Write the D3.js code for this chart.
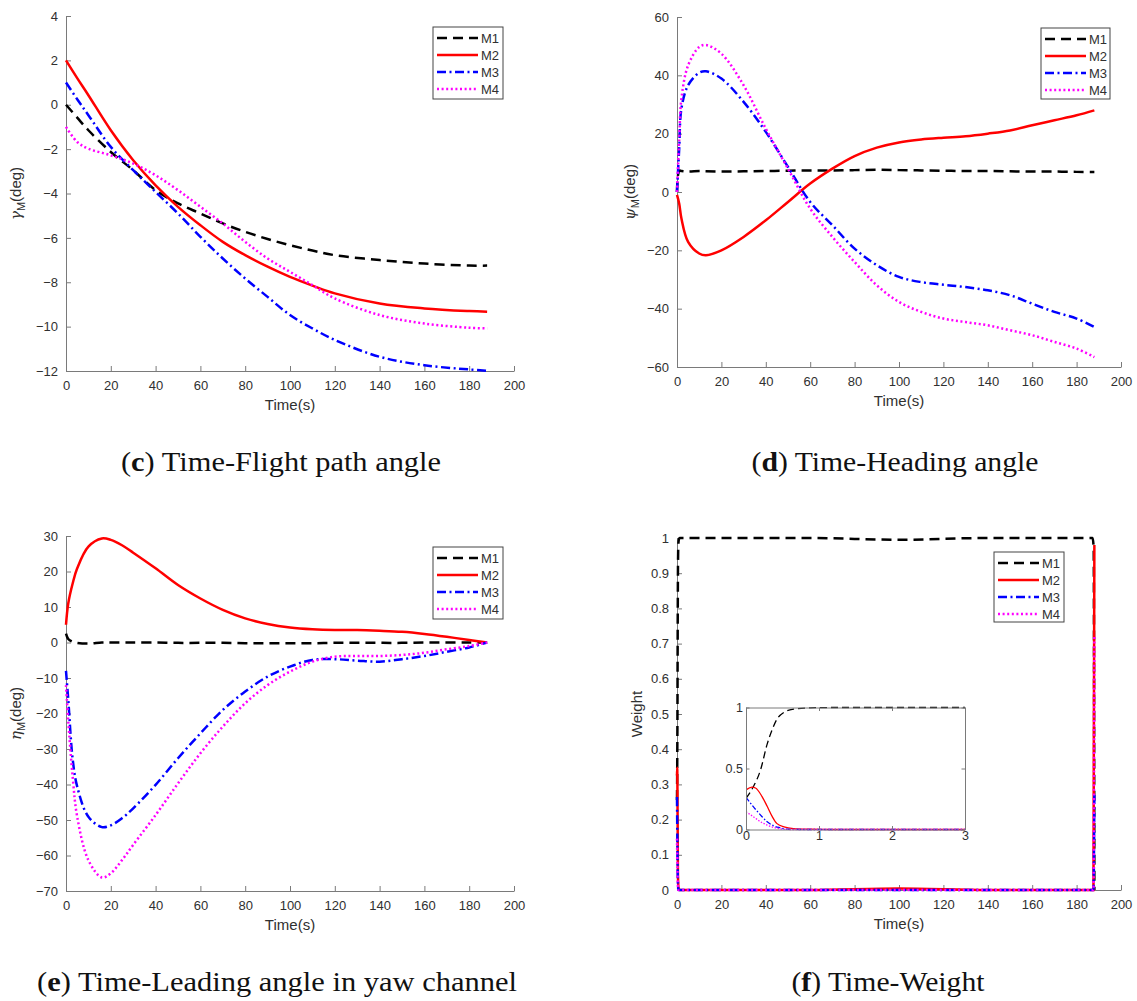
<!DOCTYPE html>
<html>
<head>
<meta charset="utf-8">
<script src="https://cdn.jsdelivr.net/npm/d3@7"></script>
<style>
  body { margin: 0; background: #fff; }
  svg { display: block; }
  svg text { font-family: "Liberation Sans", Arimo, Arial, Helvetica, sans-serif; }
  svg text.cap { font-family: "Liberation Serif", Tinos, "Times New Roman", serif; }
  svg tspan.greek { font-family: "DejaVu Serif", serif; font-style: italic; }
</style>
</head>
<body>
<svg id="fig" width="1137" height="1001"></svg>
<script>
// ---- series meta ----
const seriesNames = ["M1", "M2", "M3", "M4"];

// ---- (c) flight path angle ----
const tGamma   = [0, 5, 10, 20, 30, 40, 50, 60, 70, 80, 90, 100, 110, 120, 140, 160, 180, 188];
const gammaM1  = [0, -0.58, -1.15, -2.13, -2.95, -3.85, -4.45, -4.9, -5.35, -5.73, -6.05, -6.33, -6.57, -6.78, -7.0, -7.16, -7.25, -7.25];
const gammaM2  = [2, 1.2, 0.43, -1.15, -2.5, -3.63, -4.6, -5.43, -6.18, -6.78, -7.3, -7.76, -8.15, -8.5, -8.96, -9.18, -9.3, -9.33];
const gammaM3  = [1, 0.25, -0.47, -1.9, -2.95, -3.93, -4.9, -5.95, -6.93, -7.83, -8.66, -9.48, -10.08, -10.6, -11.36, -11.74, -11.93, -11.99];
const gammaM4  = [-1, -1.68, -1.98, -2.28, -2.65, -3.18, -3.85, -4.6, -5.35, -6.18, -6.93, -7.53, -8.13, -8.73, -9.48, -9.86, -10.05, -10.08];
const gammaTicks = [4, 2, 0, -2, -4, -6, -8, -10, -12];

// ---- (d) heading angle ----
const tPsi   = [0, 1, 2, 5, 10, 13, 20, 30, 40, 50, 60, 70, 80, 90, 100, 110, 120, 130, 140, 150, 160, 170, 180, 188];
const psiM1  = [0, 7.3, 7.2, 7.0, 7.2, 7.1, 7.0, 7.1, 7.2, 7.3, 7.4, 7.4, 7.5, 7.6, 7.5, 7.4, 7.3, 7.2, 7.2, 7.1, 7.0, 7.0, 6.9, 6.9];
const psiM2  = [-1, -4, -9.1, -17.1, -21.1, -21.7, -20, -15.4, -9.7, -3.4, 2.9, 8, 12.3, 15.2, 17.0, 18.0, 18.6, 19.1, 20, 21.1, 22.9, 24.6, 26.3, 28];
const psiM3  = [0, 15, 28.6, 36.6, 40.9, 41.4, 38.9, 30.9, 20.6, 8.6, -3.4, -11.4, -19.4, -25.1, -29.1, -30.9, -31.8, -32.6, -33.7, -35.4, -38.3, -41.1, -43.4, -46.3];
const psiM4  = [0, 18, 32, 43.4, 49.7, 50.4, 47.4, 36.6, 21.7, 8, -5.7, -15.4, -24, -32, -37.7, -41.1, -43.4, -44.6, -45.7, -47.4, -49.1, -51.4, -53.7, -56.6];
const psiTicks = [60, 40, 20, 0, -20, -40, -60];

// ---- (e) leading angle in yaw channel ----
const tEta   = [0, 1, 3, 5, 10, 16, 20, 25, 30, 40, 50, 60, 70, 80, 90, 100, 110, 120, 130, 140, 150, 160, 170, 180, 188];
const etaM1  = [2.5, 1, 0.2, -0.1, -0.3, 0, 0, 0, 0, 0, -0.1, -0.1, -0.1, -0.2, -0.2, -0.2, -0.2, -0.1, -0.1, -0.1, -0.1, 0, 0, 0, 0];
const etaM2  = [5, 11, 16.7, 20.9, 27, 29.3, 28.9, 27.4, 25.3, 20.9, 16.2, 12.4, 9.2, 6.8, 5.2, 4.2, 3.7, 3.5, 3.5, 3.3, 3, 2.4, 1.6, 0.7, 0];
const etaM3  = [-8, -16, -33, -40.6, -49.1, -52, -51.5, -49.5, -46.7, -40.1, -32.6, -25.6, -19, -13.8, -9.6, -6.8, -4.9, -4.7, -5.1, -5.4, -4.7, -3.8, -2.6, -1.4, 0];
const etaM4  = [-12, -22, -38, -49.1, -61.3, -66.2, -65, -61.3, -57, -48.6, -39.7, -31.2, -23.7, -17.1, -12, -8.2, -5.4, -4, -3.8, -3.8, -3.5, -2.9, -1.9, -1, 0];
const etaTicks = [30, 20, 10, 0, -10, -20, -30, -40, -50, -60, -70];

// ---- (f) weights ----
const wT1 = [0, 0.1, 0.2, 0.29, 0.36, 0.42, 0.52, 0.65, 0.88, 1.2, 60, 100, 140, 187.2, 187.7, 188];
const wM1 = [0.256, 0.35, 0.49, 0.70, 0.82, 0.9, 0.96, 0.986, 0.997, 1, 1, 0.995, 1, 1, 0.97, 0];
const wT2 = [0, 0.08, 0.13, 0.22, 0.29, 0.36, 0.42, 0.52, 0.65, 0.88, 1.2, 60, 100, 140, 187.6, 188];
const wM2 = [0.325, 0.347, 0.34, 0.27, 0.19, 0.105, 0.05, 0.022, 0.008, 0.003, 0, 0, 0.004, 0, 0, 0.98];
const wT3 = [0, 0.1, 0.2, 0.29, 0.38, 0.47, 0.56, 0.8, 187.6, 188];
const wM3 = [0.264, 0.187, 0.118, 0.063, 0.03, 0.014, 0.003, 0, 0, 0.27];
const wT4 = [0, 0.1, 0.2, 0.29, 0.38, 0.47, 0.6, 187.6, 188];
const wM4 = [0.146, 0.105, 0.063, 0.036, 0.017, 0.006, 0, 0, 0.72];
const weightTicks = [0, 0.1, 0.2, 0.3, 0.4, 0.5, 0.6, 0.7, 0.8, 0.9, 1];
const insetXTicks = [0, 1, 2, 3];
const insetYTicks = [0, 0.5, 1];

const timeTicks = [0, 20, 40, 60, 80, 100, 120, 140, 160, 180, 200];

// ---- styles ----
const colors = ["#000000", "#ff0000", "#0000ff", "#ff00ff"];
const dashes = ["10,6", null, "9,3.5,2,3.5", "2,2.6"];
const insetDashes = ["7,4", null, "5,2,1.5,2", "1.4,1.6"];
const AXIS_COLOR = "#7a7a7a";
const TEXT_COLOR = "#303030";

const svg = d3.select("#fig");

function zip(ts, vs) { return ts.map((t, i) => ({ t, v: vs[i] })); }

function styleAxis(g, size) {
  g.attr("font-family", null).attr("font-size", size);
  g.select(".domain").attr("stroke", AXIS_COLOR).attr("stroke-width", 1);
  g.selectAll(".tick line").attr("stroke", AXIS_COLOR).attr("stroke-width", 1);
  g.selectAll(".tick text").attr("fill", TEXT_COLOR);
}

function yLabel(x, y, parts) {
  const t = svg.append("text")
    .attr("transform", `translate(${x},${y}) rotate(-90)`)
    .attr("text-anchor", "middle")
    .attr("font-size", 15)
    .attr("fill", TEXT_COLOR)
    .attr("y", 5);
  parts.forEach(p => {
    const s = t.append("tspan").text(p.text);
    if (p.size) s.attr("font-size", p.size);
    if (p.dy) s.attr("dy", p.dy);
    if (p.cls) s.attr("class", p.cls);
  });
}

function legend(x, y, w, h) {
  const g = svg.append("g");
  g.append("rect").attr("x", x).attr("y", y).attr("width", w).attr("height", h)
    .attr("fill", "#fff").attr("stroke", "#444").attr("stroke-width", 1);
  seriesNames.forEach((name, i) => {
    const ry = y + 11 + i * 17;
    g.append("line")
      .attr("x1", x + 4).attr("x2", x + 45).attr("y1", ry).attr("y2", ry)
      .attr("stroke", colors[i]).attr("stroke-width", 2.5)
      .attr("stroke-dasharray", dashes[i]);
    g.append("text").attr("x", x + 48).attr("y", ry + 5)
      .attr("font-size", 13).attr("fill", TEXT_COLOR)
      .text(name);
  });
}

function caption(cx, y, letter, rest, width) {
  const t = svg.append("text")
    .attr("class", "cap")
    .attr("x", cx).attr("y", y)
    .attr("text-anchor", "middle")
    .attr("font-size", 28)
    .attr("fill", "#111")
    .attr("textLength", width)
    .attr("lengthAdjust", "spacingAndGlyphs");
  t.append("tspan").text("(");
  t.append("tspan").attr("font-weight", "bold").text(letter);
  t.append("tspan").text(") " + rest);
}

function drawPanel(cfg) {
  const x = d3.scaleLinear().domain([0, 200]).range([cfg.x0, cfg.x1]);
  const y = d3.scaleLinear().domain(cfg.yDomain).range([cfg.yBot, cfg.yTop]);

  const gx = svg.append("g").attr("transform", `translate(0,${cfg.yBot})`)
    .call(d3.axisBottom(x).tickValues(timeTicks).tickSizeInner(-5).tickSizeOuter(0).tickPadding(10)
      .tickFormat(d => String(d)));
  styleAxis(gx, 13);
  const gy = svg.append("g").attr("transform", `translate(${cfg.x0},0)`)
    .call(d3.axisLeft(y).tickValues(cfg.yTicks).tickSizeInner(-5).tickSizeOuter(0).tickPadding(8)
      .tickFormat(cfg.fmt || d3.format("d")));
  styleAxis(gy, 13);

  const line = d3.line().x(d => x(d.t)).y(d => y(d.v)).curve(cfg.curve || d3.curveCatmullRom.alpha(0.5));
  cfg.series.forEach((s, i) => {
    svg.append("path").datum(s)
      .attr("d", line)
      .attr("fill", "none")
      .attr("stroke", colors[i])
      .attr("stroke-width", 2.5)
      .attr("stroke-dasharray", dashes[i]);
  });

  svg.append("text")
    .attr("x", (cfg.x0 + cfg.x1) / 2).attr("y", cfg.yBot + 39)
    .attr("text-anchor", "middle").attr("font-size", 15)
    .attr("fill", TEXT_COLOR).text("Time(s)");

  yLabel(cfg.labelX, (cfg.yTop + cfg.yBot) / 2, cfg.yLabel);
  return { x, y };
}

// (c)
drawPanel({
  x0: 66, x1: 514, yTop: 16, yBot: 371,
  yDomain: [-12, 4], yTicks: gammaTicks,
  series: [zip(tGamma, gammaM1), zip(tGamma, gammaM2), zip(tGamma, gammaM3), zip(tGamma, gammaM4)],
  labelX: 16,
  yLabel: [{ text: "γ", cls: "greek" }, { text: "M", size: 11, dy: 4 }, { text: "(deg)", dy: -4 }]
});
legend(433, 27, 70, 72);

// (d)
drawPanel({
  x0: 677, x1: 1121, yTop: 17, yBot: 367,
  yDomain: [-60, 60], yTicks: psiTicks,
  series: [zip(tPsi, psiM1), zip(tPsi, psiM2), zip(tPsi, psiM3), zip(tPsi, psiM4)],
  labelX: 630,
  yLabel: [{ text: "ψ", cls: "greek" }, { text: "M", size: 11, dy: 4 }, { text: "(deg)", dy: -4 }]
});
legend(1041, 28, 69, 71);

// (e)
drawPanel({
  x0: 66, x1: 514, yTop: 536, yBot: 891,
  yDomain: [-70, 30], yTicks: etaTicks,
  series: [zip(tEta, etaM1), zip(tEta, etaM2), zip(tEta, etaM3), zip(tEta, etaM4)],
  labelX: 16,
  yLabel: [{ text: "η", cls: "greek" }, { text: "M", size: 11, dy: 4 }, { text: "(deg)", dy: -4 }]
});
legend(433, 547, 70, 72);

// (f)
const weightSeries = [zip(wT1, wM1), zip(wT2, wM2), zip(wT3, wM3), zip(wT4, wM4)];
drawPanel({
  x0: 677, x1: 1121, yTop: 538, yBot: 890,
  yDomain: [0, 1], yTicks: weightTicks,
  fmt: d => (d === 0 || d === 1) ? String(d) : d3.format(".1f")(d),
  series: weightSeries,
  curve: d3.curveMonotoneX,
  labelX: 637,
  yLabel: [{ text: "Weight" }]
});
legend(994, 552, 70, 70);

// inset: first three seconds of the weights
(function inset() {
  const L = 746, R = 965, T = 707.5, B = 829.5;
  const x = d3.scaleLinear().domain([0, 3]).range([L, R]);
  const y = d3.scaleLinear().domain([0, 1]).range([B, T]);
  const g = svg.append("g");
  g.append("rect").attr("x", L).attr("y", T).attr("width", R - L).attr("height", B - T).attr("fill", "#fff");
  const clip = svg.append("clipPath").attr("id", "insetClip");
  clip.append("rect").attr("x", L).attr("y", T - 2).attr("width", R - L).attr("height", B - T + 4);

  const line = d3.line().x(d => x(d.t)).y(d => y(d.v)).curve(d3.curveMonotoneX);
  weightSeries.forEach((s, i) => {
    // keep every sample inside the window plus the first one past it, so the trace runs to the edge
    const firstPast = s.findIndex(d => d.t > 3);
    const part = firstPast < 0 ? s : s.slice(0, firstPast + 1);
    g.append("path").datum(part)
      .attr("d", line).attr("clip-path", "url(#insetClip)")
      .attr("fill", "none").attr("stroke", colors[i]).attr("stroke-width", 1.3)
      .attr("stroke-dasharray", insetDashes[i]);
  });

  const ax = [
    g.append("g").attr("transform", `translate(0,${B})`)
      .call(d3.axisBottom(x).tickValues(insetXTicks).tickSizeInner(-3.5).tickSizeOuter(0).tickPadding(2)
        .tickFormat(d => String(d))),
    g.append("g").attr("transform", `translate(${L},0)`)
      .call(d3.axisLeft(y).tickValues(insetYTicks).tickSizeInner(-3.5).tickSizeOuter(0).tickPadding(3)
        .tickFormat(d => String(d))),
    g.append("g").attr("transform", `translate(0,${T})`)
      .call(d3.axisTop(x).tickValues(insetXTicks).tickSizeInner(-3.5).tickSizeOuter(0).tickFormat("")),
    g.append("g").attr("transform", `translate(${R},0)`)
      .call(d3.axisRight(y).tickValues(insetYTicks).tickSizeInner(-3.5).tickSizeOuter(0).tickFormat(""))
  ];
  ax.forEach(a => styleAxis(a, 12.5));
})();

// captions
caption(281, 471, "c", "Time-Flight path angle", 320);
caption(895, 471, "d", "Time-Heading angle", 287);
caption(277, 991, "e", "Time-Leading angle in yaw channel", 480);
caption(888, 991, "f", "Time-Weight", 193);
</script>
</body>
</html>
